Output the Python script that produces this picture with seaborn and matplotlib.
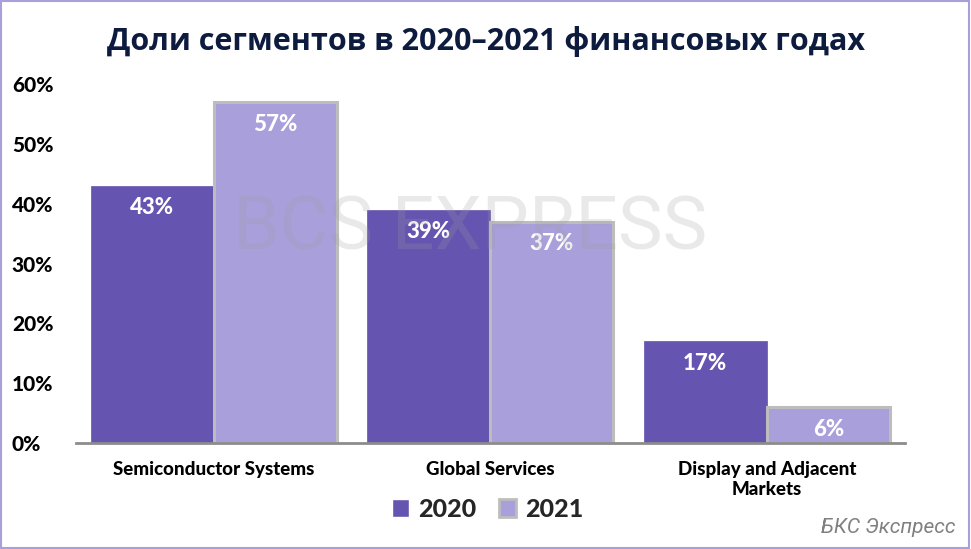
import matplotlib
matplotlib.use("Agg")
import matplotlib.pyplot as plt
import seaborn as sns
import pandas as pd
from matplotlib.patches import Rectangle
from matplotlib.ticker import FuncFormatter

categories = ["Semiconductor Systems", "Global Services", "Display and Adjacent\nMarkets"]
years = ["2020", "2021"]
values_2020 = [0.43, 0.39, 0.17]
values_2021 = [0.57, 0.37, 0.06]
yticks = [0, 0.1, 0.2, 0.3, 0.4, 0.5, 0.6]
title = "Доли сегментов в 2020–2021 финансовых годах"

df = pd.DataFrame({
    "category": categories * 2,
    "year": [years[0]] * 3 + [years[1]] * 3,
    "value": values_2020 + values_2021,
})

sns.set_theme(style="white")
plt.rcParams["font.family"] = ["Lato", "DejaVu Sans"]

c2020 = "#6554B0"
c2021 = "#A99FDB"

fig = plt.figure(figsize=(9.71, 5.49), dpi=100)
ax = fig.add_axes([0.078, 0.193, 0.854, 0.654])

sns.barplot(data=df, x="category", y="value", hue="year",
            palette=[c2020, c2021], width=0.89, ax=ax, legend=True,
            saturation=1)

containers = ax.containers
for b in containers[0]:
    b.set_edgecolor(c2020)
    b.set_linewidth(0.5)
for b in containers[1]:
    b.set_edgecolor("#BDBDBD")
    b.set_linewidth(2.2)

for cont in containers:
    for b in cont:
        h = b.get_height()
        ax.annotate(f"{round(h*100):.0f}%", (b.get_x() + b.get_width() / 2, h),
                    xytext=(0, -16), textcoords="offset points",
                    ha="center", va="center", color="white",
                    fontsize=16, fontweight=900, zorder=6)

ax.set_ylim(0, 0.6)
ax.set_xlim(-0.5, 2.5)
ax.set_yticks(yticks)
ax.yaxis.set_major_formatter(FuncFormatter(lambda v, p: f"{v*100:.0f}%"))
for lbl in ax.get_yticklabels():
    lbl.set_fontweight(900)
    lbl.set_fontsize(15)
    lbl.set_color("black")
    lbl.set_horizontalalignment("left")
ax.tick_params(axis="y", pad=46, length=0)
ax.tick_params(axis="x", pad=13, length=0)
for lbl in ax.get_xticklabels():
    lbl.set_fontweight(900)
    lbl.set_fontsize(13.5)
    lbl.set_color("black")
ax.set_xlabel("")
ax.set_ylabel("")
for s in ["top", "right", "left"]:
    ax.spines[s].set_visible(False)
ax.spines["bottom"].set_color("#8C8C8C")
ax.spines["bottom"].set_linewidth(2)

# legend
handles, labels = ax.get_legend_handles_labels()
handles[1].set_edgecolor("#BDBDBD")
handles[1].set_linewidth(2)
ax.legend(handles, labels, loc="center", bbox_to_anchor=(0.502, 0.072), bbox_transform=fig.transFigure,
          ncol=2, frameon=False, prop={"weight": 900, "size": 18},
          handlelength=0.7, handleheight=0.7, handletextpad=0.35, columnspacing=0.9)

fig.text(0.5, 0.925, title, ha="center", va="center", fontsize=22,
         fontweight="bold", color="#0D1B3E", family=["Open Sans", "DejaVu Sans"])

# watermark
fig.text(0.484, 0.583, "BCS EXPRESS", ha="center", va="center", fontsize=54,
         color="#9E9E9E", alpha=0.22, family=["Roboto", "DejaVu Sans"], zorder=5)

fig.text(0.984, 0.04, "БКС Экспресс", ha="right", va="center", fontsize=15,
         style="italic", color="#808080", family=["Roboto", "DejaVu Sans"])

fig.patches.append(Rectangle((0.001, 0.002), 0.997, 0.996, transform=fig.transFigure,
                             fill=False, edgecolor="#A99FDB", linewidth=1.5))

fig.savefig("out.png", dpi=100)
